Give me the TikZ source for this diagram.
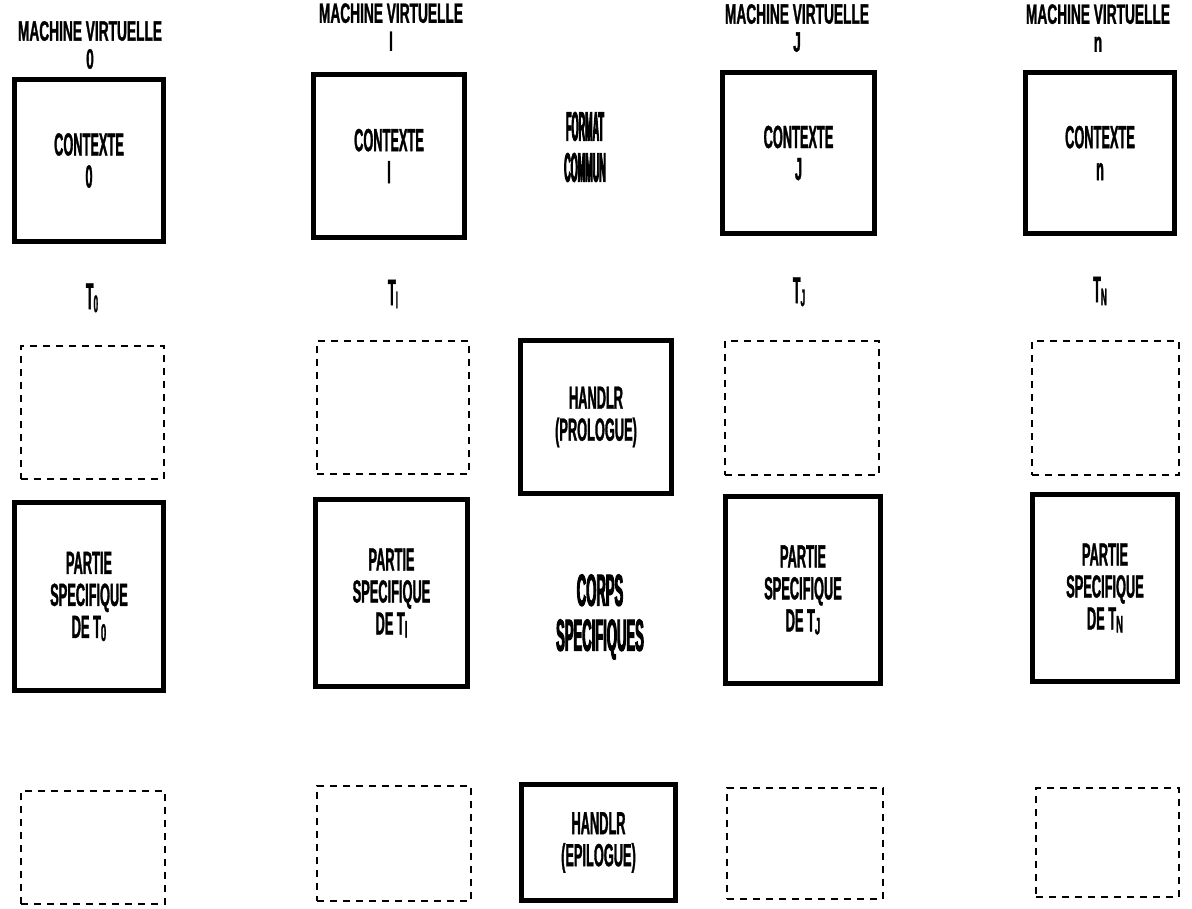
\documentclass[tikz,border=0pt]{standalone}
\usepackage{fontspec}
\newfontfamily\dfont[FakeStretch=0.40,FakeBold=1]{Liberation Sans}
\newfontfamily\xfont[FakeStretch=0.34,FakeBold=1]{Liberation Sans}
\newfontfamily\tfont[FakeStretch=0.49,FakeBold=1]{Liberation Sans}
\newfontfamily\nfont[FakeStretch=0.29,FakeBold=2]{Liberation Sans}
\newfontfamily\ffont[FakeStretch=0.22,FakeBold=2]{Liberation Sans}
\newcommand\subx[1]{\raisebox{-3pt}{\fontsize{24}{24}\selectfont #1}}
\begin{document}
\begin{tikzpicture}[x=1pt,y=-1pt,
  solidbox/.style={draw, line width=5pt, inner sep=0pt},
  dashbox/.style={draw, line width=2.5pt, dash pattern=on 7pt off 6pt, inner sep=0pt},
  lbl/.style={align=center, inner sep=0pt, font=\dfont\bfseries\fontsize{32}{32}\selectfont},
  tlbl/.style={inner sep=0pt, font=\xfont\bfseries\fontsize{37}{37}\selectfont},
  title/.style={align=center, inner sep=0pt, font=\tfont\bfseries\fontsize{28}{28}\selectfont},
  big/.style={align=center, inner sep=0pt, font=\nfont\bfseries\fontsize{45}{45}\selectfont},
  fmt/.style={align=center, inner sep=0pt, font=\ffont\bfseries\fontsize{41}{41}\selectfont}]
\useasboundingbox (0,0) rectangle (1192,909);
% titles
\node[title] (m0) at (90,45) {MACHINE VIRTUELLE\\0};
\node[title] (m1) at (391,27) {MACHINE VIRTUELLE\\I};
\node[title] (m3) at (797,28) {MACHINE VIRTUELLE\\J};
\node[title] (m4) at (1098,28) {MACHINE VIRTUELLE\\n};
% context boxes
\node[solidbox, lbl, minimum width=149pt, minimum height=162pt] (c0) at (89,160.5) {CONTEXTE\\0};
\node[solidbox, lbl, minimum width=151pt, minimum height=163pt] (c1) at (389,156) {CONTEXTE\\I};
\node[solidbox, lbl, minimum width=152pt, minimum height=161pt] (c3) at (798.5,153) {CONTEXTE\\J};
\node[solidbox, lbl, minimum width=149pt, minimum height=161pt] (c4) at (1100,153) {CONTEXTE\\n};
\node[fmt] (fc) at (585,147) {FORMAT\\COMMUN};
% T labels
\node[tlbl] (t0) at (92,298) {T\subx{0}};
\node[tlbl] (t1) at (393,294) {T\subx{I}};
\node[tlbl] (t3) at (799,292) {T\subx{J}};
\node[tlbl] (t4) at (1100,291) {T\subx{N}};
% row 2
\node[dashbox, minimum width=143pt, minimum height=133pt] (d0) at (92.5,412.5) {};
\node[dashbox, minimum width=152pt, minimum height=133pt] (d1) at (393,407.5) {};
\node[solidbox, lbl, minimum width=151pt, minimum height=153pt] (pro) at (596,417) {HANDLR\\(PROLOGUE)};
\node[dashbox, minimum width=154pt, minimum height=134pt] (d3) at (802,408) {};
\node[dashbox, minimum width=147pt, minimum height=134pt] (d4) at (1105.5,408) {};
% row 3
\node[solidbox, lbl, minimum width=149pt, minimum height=188pt] (p0) at (89,596.5) {PARTIE\\SPECIFIQUE\\DE T\subx{0}};
\node[solidbox, lbl, minimum width=152pt, minimum height=187pt] (p1) at (391.5,593) {PARTIE\\SPECIFIQUE\\DE T\subx{I}};
\node[big] (cs) at (600,617) {CORPS\\SPECIFIQUES};
\node[solidbox, lbl, minimum width=155pt, minimum height=187pt] (p3) at (803,590) {PARTIE\\SPECIFIQUE\\DE T\subx{J}};
\node[solidbox, lbl, minimum width=145pt, minimum height=187pt] (p4) at (1105,588) {PARTIE\\SPECIFIQUE\\DE T\subx{N}};
% row 4
\node[dashbox, minimum width=144pt, minimum height=113pt] (e0) at (93,847.5) {};
\node[dashbox, minimum width=154pt, minimum height=115pt] (e1) at (394,843.5) {};
\node[solidbox, lbl, minimum width=154pt, minimum height=116pt] (epi) at (598.5,842.5) {HANDLR\\(EPILOGUE)};
\node[dashbox, minimum width=156pt, minimum height=111pt] (e3) at (805,843.5) {};
\node[dashbox, minimum width=143pt, minimum height=109pt] (e4) at (1107.5,842.5) {};
\end{tikzpicture}
\end{document}
